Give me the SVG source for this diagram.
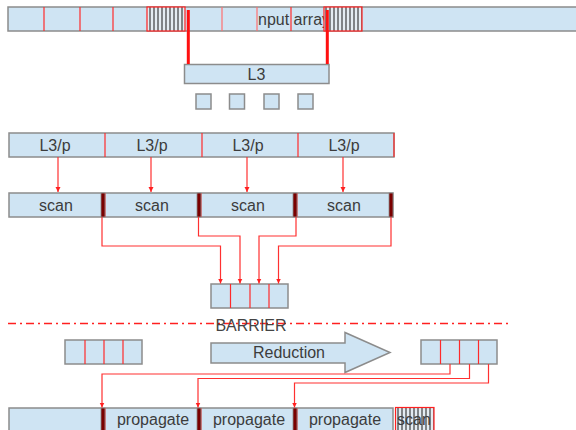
<svg xmlns="http://www.w3.org/2000/svg" width="576" height="430" viewBox="0 0 576 430">
  <style>
    .cell { fill: #cfe4f3; stroke: #8c8c8c; stroke-width: 1.5; }
    .div { stroke: #ff2a2a; stroke-width: 1.2; }
    .divl { stroke: #ff7070; stroke-width: 1.2; }
    .hatch { fill: url(#stripes); stroke: #ff2020; stroke-width: 1.2; }
    .bar { fill: #7a0000; stroke: #8c8c8c; stroke-width: 0.8; }
    .lbl { font-family: "Liberation Sans", Arial, sans-serif; font-size: 16px; fill: #3c3c3c; text-anchor: middle; }
    .wire { fill: none; stroke: #ff3030; stroke-width: 1.2; }
  </style>
  <defs>
    <pattern id="stripes" patternUnits="userSpaceOnUse" width="4" height="10">
      <rect width="4" height="10" fill="#e4ecf2"/>
      <rect x="1.5" width="1" height="10" fill="#1a1a1a"/>
    </pattern>
    <marker id="tip" markerUnits="userSpaceOnUse" markerWidth="6" markerHeight="6" refX="5" refY="3" orient="auto">
      <path d="M0,0.5 L5,3 L0,5.5 z" fill="#ff2020"/>
    </marker>
  </defs>

  <!-- input array strip -->
  <g id="input-array">
    <rect class="cell" x="8" y="7" width="580" height="24"/>
    <line class="div" x1="44" y1="7" x2="44" y2="31"/>
    <line class="div" x1="80" y1="7" x2="80" y2="31"/>
    <line class="div" x1="113" y1="7" x2="113" y2="31"/>
    <line class="divl" x1="222" y1="7" x2="222" y2="31"/>
    <line class="divl" x1="257" y1="7" x2="257" y2="31"/>
    <line class="div" x1="291" y1="7" x2="291" y2="31"/>
    <text class="lbl" x="258" y="25" style="text-anchor:start">nput array</text>
    <rect class="hatch" x="147" y="7" width="38" height="24"/>
    <rect class="hatch" x="324" y="7" width="38" height="24"/>
  </g>

  <!-- L3 block -->
  <g id="l3">
    <rect class="cell" x="184.5" y="64.5" width="144.5" height="19"/>
    <text class="lbl" x="256.5" y="79.5">L3</text>
  </g>

  <!-- small blocks -->
  <g id="dots">
    <rect class="cell" x="196" y="94" width="15" height="15"/>
    <rect class="cell" x="229.5" y="94" width="15" height="15"/>
    <rect class="cell" x="264" y="94" width="15" height="15"/>
    <rect class="cell" x="298" y="94" width="15" height="15"/>
  </g>

  <!-- L3/p partitions -->
  <g id="partitions">
    <rect class="cell" x="9" y="133" width="385" height="24"/>
    <line class="div" x1="105" y1="133" x2="105" y2="157"/>
    <line class="div" x1="202" y1="133" x2="202" y2="157"/>
    <line class="div" x1="298" y1="133" x2="298" y2="157"/>
    <line class="div" x1="394" y1="133" x2="394" y2="157"/>
    <text class="lbl" x="55" y="150.5">L3/p</text>
    <text class="lbl" x="152" y="150.5">L3/p</text>
    <text class="lbl" x="248" y="150.5">L3/p</text>
    <text class="lbl" x="344" y="150.5">L3/p</text>
  </g>

  <!-- scan row -->
  <g id="scan-row">
    <rect class="cell" x="9" y="193" width="384" height="24"/>
    <line class="div" x1="105" y1="193" x2="105" y2="217"/>
    <line class="div" x1="201" y1="193" x2="201" y2="217"/>
    <line class="div" x1="297" y1="193" x2="297" y2="217"/>
    <rect class="bar" x="101" y="193" width="4" height="24"/>
    <rect class="bar" x="197" y="193" width="4" height="24"/>
    <rect class="bar" x="293" y="193" width="4" height="24"/>
    <rect class="bar" x="389" y="193" width="4" height="24"/>
    <text class="lbl" x="56" y="210.5">scan</text>
    <text class="lbl" x="152" y="210.5">scan</text>
    <text class="lbl" x="248" y="210.5">scan</text>
    <text class="lbl" x="344" y="210.5">scan</text>
  </g>

  <!-- partial sums -->
  <g id="sums">
    <rect class="cell" x="211" y="284" width="77" height="24"/>
    <line class="div" x1="230.5" y1="284" x2="230.5" y2="308"/>
    <line class="div" x1="250" y1="284" x2="250" y2="308"/>
    <line class="div" x1="269" y1="284" x2="269" y2="308"/>
  </g>

  <!-- barrier -->
  <g id="barrier">
    <line x1="8" y1="323.5" x2="511" y2="323.5" stroke="#ff2020" stroke-width="1.5" stroke-dasharray="8 4 2 4"/>
    <text class="lbl" x="251" y="331" style="fill:#444">BARRIER</text>
  </g>

  <!-- sums before reduction -->
  <g id="sums-in">
    <rect class="cell" x="65" y="340" width="77" height="24"/>
    <line class="div" x1="85" y1="340" x2="85" y2="364"/>
    <line class="div" x1="104" y1="340" x2="104" y2="364"/>
    <line class="div" x1="123" y1="340" x2="123" y2="364"/>
  </g>

  <!-- reduction arrow -->
  <g id="reduction">
    <polygon class="cell" points="211,343 345,343 345,332.5 390,352.5 345,372.5 345,363 211,363"/>
    <text class="lbl" x="289" y="357.5">Reduction</text>
  </g>

  <!-- sums after reduction -->
  <g id="sums-out">
    <rect class="cell" x="421" y="340" width="76" height="24"/>
    <line class="div" x1="440.5" y1="340" x2="440.5" y2="364"/>
    <line class="div" x1="459.5" y1="340" x2="459.5" y2="364"/>
    <line class="div" x1="478.5" y1="340" x2="478.5" y2="364"/>
  </g>

  <!-- propagate row -->
  <g id="propagate-row">
    <rect class="cell" x="9" y="408" width="384" height="26"/>
    <line class="div" x1="105" y1="408" x2="105" y2="434"/>
    <line class="div" x1="201" y1="408" x2="201" y2="434"/>
    <line class="div" x1="297" y1="408" x2="297" y2="434"/>
    <rect class="bar" x="101" y="408" width="4" height="26"/>
    <rect class="bar" x="197" y="408" width="4" height="26"/>
    <rect class="bar" x="293" y="408" width="4" height="26"/>
    <text class="lbl" x="153" y="425">propagate</text>
    <text class="lbl" x="249" y="425">propagate</text>
    <text class="lbl" x="345" y="425">propagate</text>
  </g>

  <!-- trailing scan block -->
  <g id="tail-scan">
    <rect class="hatch" x="395.5" y="407.5" width="38.5" height="26"/>
    <text class="lbl" x="414" y="425">scan</text>
  </g>

  <!-- connectors -->
  <g id="connectors">
    <rect x="186.8" y="10" width="3" height="54" fill="#ff1010"/>
    <rect x="325.8" y="10" width="3" height="54" fill="#ff1010"/>
    <path class="wire" d="M58,157 V192" marker-end="url(#tip)"/>
    <path class="wire" d="M151,157 V192" marker-end="url(#tip)"/>
    <path class="wire" d="M247,157 V192" marker-end="url(#tip)"/>
    <path class="wire" d="M343,157 V192" marker-end="url(#tip)"/>
    <path class="wire" d="M102,217 V246 H220.5 V283.5" marker-end="url(#tip)"/>
    <path class="wire" d="M198.5,217 V236 H240 V283.5" marker-end="url(#tip)"/>
    <path class="wire" d="M296,217 V236 H259 V283.5" marker-end="url(#tip)"/>
    <path class="wire" d="M391,217 V246 H278.5 V283.5" marker-end="url(#tip)"/>
    <path class="wire" d="M450,364 V374 H102 V407.5" marker-end="url(#tip)"/>
    <path class="wire" d="M469.5,364 V378.5 H198 V407.5" marker-end="url(#tip)"/>
    <path class="wire" d="M488.5,364 V383 H294.5 V407.5" marker-end="url(#tip)"/>
  </g>
</svg>
